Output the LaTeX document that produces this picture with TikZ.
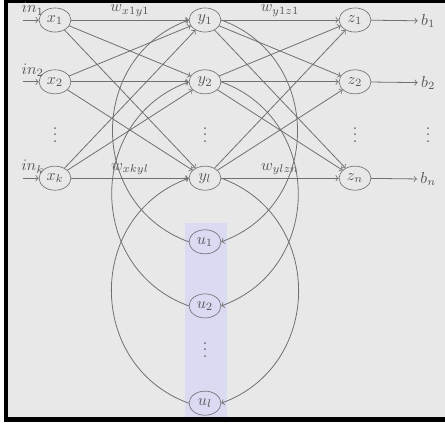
\documentclass[tikz,border=0pt]{standalone}
\usetikzlibrary{shapes.geometric}
\definecolor{bg}{RGB}{232,232,232}
\definecolor{ln}{RGB}{112,112,112}
\definecolor{tx}{RGB}{85,85,85}
\definecolor{ctx}{RGB}{218,218,242}
\tikzset{
    neuron/.style={draw=ln,ellipse,minimum width=0.7cm,minimum height=0.53cm,inner sep=0pt,text=tx},
    link/.style={draw=ln,line width=0.5pt,->},
    lbl/.style={text=tx,inner sep=2pt}
}
\begin{document}
\begin{tikzpicture}
    \useasboundingbox (0,0) rectangle (9.79,-9.35);
    \fill [white](0,0) rectangle (9.79,-9.35);
    \fill [black](0.088,0) rectangle (9.79,-9.284);
    \fill [bg](0.176,-0.066) rectangle (9.79,-9.174);
    \fill [ctx](4.07,-4.91) rectangle (4.99,-9.174);

    \node [neuron] (x1) at (1.21,-0.44) {$x_1$};
    \node [neuron] (x2) at (1.21,-1.80) {$x_2$};
    \node [lbl] (xd) at (1.21,-2.86) {$\vdots$};
    \node [neuron] (xk) at (1.21,-3.92) {$x_k$};

    \node [neuron] (y1) at (4.51,-0.44) {$y_1$};
    \node [neuron] (y2) at (4.51,-1.80) {$y_2$};
    \node [lbl] (yd) at (4.51,-2.86) {$\vdots$};
    \node [neuron] (yl) at (4.51,-3.92) {$y_l$};

    \node [neuron] (z1) at (7.81,-0.44) {$z_1$};
    \node [neuron] (z2) at (7.81,-1.80) {$z_2$};
    \node [lbl] (zd) at (7.81,-2.86) {$\vdots$};
    \node [neuron] (zn) at (7.81,-3.92) {$z_n$};

    \node [lbl] (b1) at (9.42,-0.46) {$b_1$};
    \node [lbl] (b2) at (9.42,-1.82) {$b_2$};
    \node [lbl] (bd) at (9.42,-2.86) {$\vdots$};
    \node [lbl] (bn) at (9.42,-3.94) {$b_n$};

    \node [neuron] (u1) at (4.51,-5.32) {$u_1$};
    \node [neuron] (u2) at (4.51,-6.73) {$u_2$};
    \node [lbl] (ud) at (4.51,-7.59) {$\vdots$};
    \node [neuron] (ul) at (4.51,-8.87) {$u_l$};

    \coordinate (s1) at (0.50,-0.44);
    \coordinate (s2) at (0.50,-1.80);
    \coordinate (sk) at (0.50,-3.92);
    \node [lbl] (in1) at (0.72,-0.19) {$in_1$};
    \node [lbl] (in2) at (0.72,-1.55) {$in_2$};
    \node [lbl] (ink) at (0.72,-3.67) {$in_k$};
    \draw [link](s1) -- (x1);
    \draw [link](s2) -- (x2);
    \draw [link](sk) -- (xk);

    \draw [link](x1) -- (y1) node[lbl,above,pos=0.5] (wa) {$w_{x1y1}$};
    \draw [link](x1) -- (y2);
    \draw [link](x1) -- (yl);
    \draw [link](x2) -- (y1);
    \draw [link](x2) -- (y2);
    \draw [link](x2) -- (yl);
    \draw [link](xk) -- (y1);
    \draw [link](xk) -- (y2);
    \draw [link](xk) -- (yl) node[lbl,above,pos=0.5] (wb) {$w_{xkyl}$};

    \draw [link](y1) -- (z1) node[lbl,above,pos=0.5] (wc) {$w_{y1z1}$};
    \draw [link](y1) -- (z2);
    \draw [link](y1) -- (zn);
    \draw [link](y2) -- (z1);
    \draw [link](y2) -- (z2);
    \draw [link](y2) -- (zn);
    \draw [link](yl) -- (z1);
    \draw [link](yl) -- (z2);
    \draw [link](yl) -- (zn) node[lbl,above,pos=0.5] (wd) {$w_{ylzn}$};

    \draw [link](z1) -- (b1);
    \draw [link](z2) -- (b2);
    \draw [link](zn) -- (bn);

    \draw [link](u1.west) to[out=160,in=200,looseness=1.25] (y1.west);
    \draw [link](u2.west) to[out=160,in=200,looseness=1.25] (y2.west);
    \draw [link](ul.west) to[out=160,in=200,looseness=1.25] (yl.west);
    \draw [link](y1.east) to[out=-20,in=20,looseness=1.25] (u1.east);
    \draw [link](y2.east) to[out=-20,in=20,looseness=1.25] (u2.east);
    \draw [link](yl.east) to[out=-20,in=20,looseness=1.25] (ul.east);
\end{tikzpicture}
\end{document}
